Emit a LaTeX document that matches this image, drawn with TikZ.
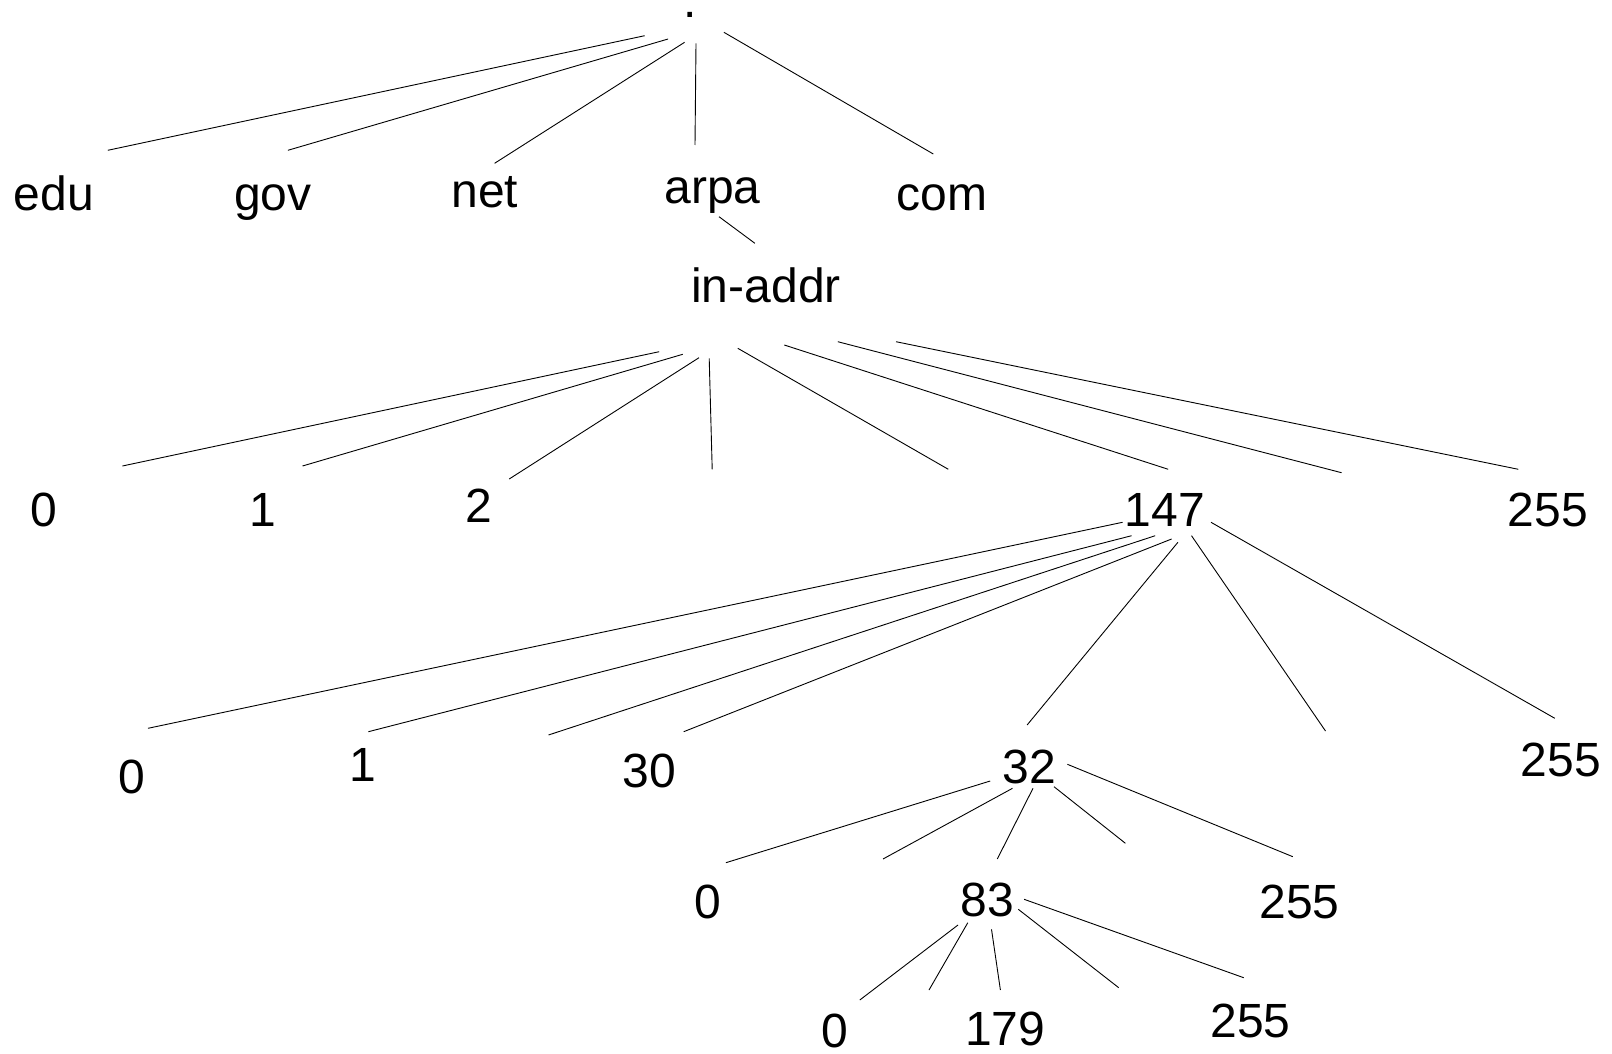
\documentclass[tikz,border=0pt]{standalone}
\usepackage{fontspec}
\setmainfont{Liberation Sans}

\begin{document}
\begin{tikzpicture}[x=1pt, y=-1pt,
                line width=0.9pt,
                every node/.style = {anchor=base, inner sep=0pt, font=\fontsize{48}{56}\selectfont}]
            \useasboundingbox (0,0) rectangle (1612,1054);

            \node (root)   at (690.5,18)    {.};

            \node (edu)    at (53.9,210.7)  {edu};
            \node (gov)    at (273,210)     {gov};
            \node (net)    at (484.7,207.3) {net};
            \node (arpa)   at (712.4,204)   {arpa};
            \node (com)    at (941.9,210)   {com};

            \node (inaddr) at (766,302.7)   {in-addr};

            \node (a0)     at (43.4,526)    {0};
            \node (a1)     at (263,526)     {1};
            \node (a2)     at (478.8,522.7) {2};
            \node (a147)   at (1165,526.7)  {147};
            \node (a255)   at (1547.7,526)  {255};

            \node (b0)     at (131.4,793.3) {0};
            \node (b1)     at (363,781.7)   {1};
            \node (b30)    at (649.2,787.3) {30};
            \node (b32)    at (1029.4,783.3) {32};
            \node (b255)   at (1560.7,776.7) {255};

            \node (c0)     at (708,918.3)   {0};
            \node (c83)    at (987,916.7)   {83};
            \node (c255)   at (1299.6,918.3) {255};

            \node (d0)     at (835,1047)    {0};
            \node (d179)   at (1005.3,1045) {179};
            \node (d255)   at (1250.5,1037.7) {255};

            % line ends near the parents
            \coordinate (root-edu)  at (644.7,35.7);
            \coordinate (root-gov)  at (668.1,39);
            \coordinate (root-net)  at (684.6,42.3);
            \coordinate (root-arpa) at (696,43.3);
            \coordinate (root-com)  at (723.9,32.3);
            \coordinate (arpa-in)   at (719,216.7);
            \coordinate (in-a0)     at (659.2,351.7);
            \coordinate (in-a1)     at (682.7,354.3);
            \coordinate (in-a2)     at (699,357.7);
            \coordinate (in-x1)     at (709.2,358.3);
            \coordinate (in-x2)     at (737.8,348.3);
            \coordinate (in-a147)   at (784.3,345);
            \coordinate (in-x3)     at (837.8,341.7);
            \coordinate (in-a255)   at (896,341.7);
            \coordinate (a147-b0)   at (1122.5,522.3);
            \coordinate (a147-b1)   at (1131.6,535.7);
            \coordinate (a147-x4)   at (1155.2,535.7);
            \coordinate (a147-b30)  at (1171.6,539);
            \coordinate (a147-b32)  at (1177.9,542.3);
            \coordinate (a147-x5)   at (1191.5,535.7);
            \coordinate (a147-b255) at (1211,522.3);
            \coordinate (b32-c0)    at (990.2,781);
            \coordinate (b32-x6)    at (1012.5,788.3);
            \coordinate (b32-c83)   at (1033,788.3);
            \coordinate (b32-x7)    at (1054,786.7);
            \coordinate (b32-c255)  at (1067.4,764.3);
            \coordinate (c83-d0)    at (958,925);
            \coordinate (c83-x8)    at (967.8,922.7);
            \coordinate (c83-d179)  at (991.5,929.3);
            \coordinate (c83-x9)    at (1018.3,909.3);
            \coordinate (c83-d255)  at (1024.1,899.3);

            % line ends near the children
            \coordinate (edu-up)  at (107.8,150.3);
            \coordinate (gov-up)  at (287.9,150.3);
            \coordinate (net-up)  at (494.6,163.3);
            \coordinate (arpa-up) at (695,145);
            \coordinate (com-up)  at (933.3,154);
            \coordinate (in-up)   at (754.9,243.3);
            \coordinate (a0-up)   at (122.4,466);
            \coordinate (a1-up)   at (302.5,466);
            \coordinate (a2-up)   at (509.2,479);
            \coordinate (x1)      at (712.2,469.3);
            \coordinate (x2)      at (948.3,469.3);
            \coordinate (a147-up) at (1168.2,469.3);
            \coordinate (x3)      at (1341.5,472.7);
            \coordinate (a255-up) at (1518.3,469.3);
            \coordinate (b0-up)   at (148,728.3);
            \coordinate (b1-up)   at (368.4,731.7);
            \coordinate (x4)      at (548.5,735);
            \coordinate (b30-up)  at (683.7,731.7);
            \coordinate (b32-up)  at (1027.1,725);
            \coordinate (x5)      at (1325.5,731);
            \coordinate (b255-up) at (1554.8,718.3);
            \coordinate (c0-up)   at (725.9,862.7);
            \coordinate (x6)      at (883,859);
            \coordinate (c83-up)  at (997.3,859);
            \coordinate (x7)      at (1125.4,843.3);
            \coordinate (c255-up) at (1292.8,856.7);
            \coordinate (d0-up)   at (859.8,1000);
            \coordinate (x8)      at (929,990);
            \coordinate (d179-up) at (1000.4,990);
            \coordinate (x9)      at (1118.7,987.7);
            \coordinate (d255-up) at (1243.7,977.7);

            \path[draw]
            (root-edu)  edge (edu-up)
            (root-gov)  edge (gov-up)
            (root-net)  edge (net-up)
            (root-arpa) edge (arpa-up)
            (root-com)  edge (com-up)
            (arpa-in)   edge (in-up)
            (in-a0)     edge (a0-up)
            (in-a1)     edge (a1-up)
            (in-a2)     edge (a2-up)
            (in-x1)     edge (x1)
            (in-x2)     edge (x2)
            (in-a147)   edge (a147-up)
            (in-x3)     edge (x3)
            (in-a255)   edge (a255-up)
            (a147-b0)   edge (b0-up)
            (a147-b1)   edge (b1-up)
            (a147-x4)   edge (x4)
            (a147-b30)  edge (b30-up)
            (a147-b32)  edge (b32-up)
            (a147-x5)   edge (x5)
            (a147-b255) edge (b255-up)
            (b32-c0)    edge (c0-up)
            (b32-x6)    edge (x6)
            (b32-c83)   edge (c83-up)
            (b32-x7)    edge (x7)
            (b32-c255)  edge (c255-up)
            (c83-d0)    edge (d0-up)
            (c83-x8)    edge (x8)
            (c83-d179)  edge (d179-up)
            (c83-x9)    edge (x9)
            (c83-d255)  edge (d255-up);
        \end{tikzpicture}
\end{document}
